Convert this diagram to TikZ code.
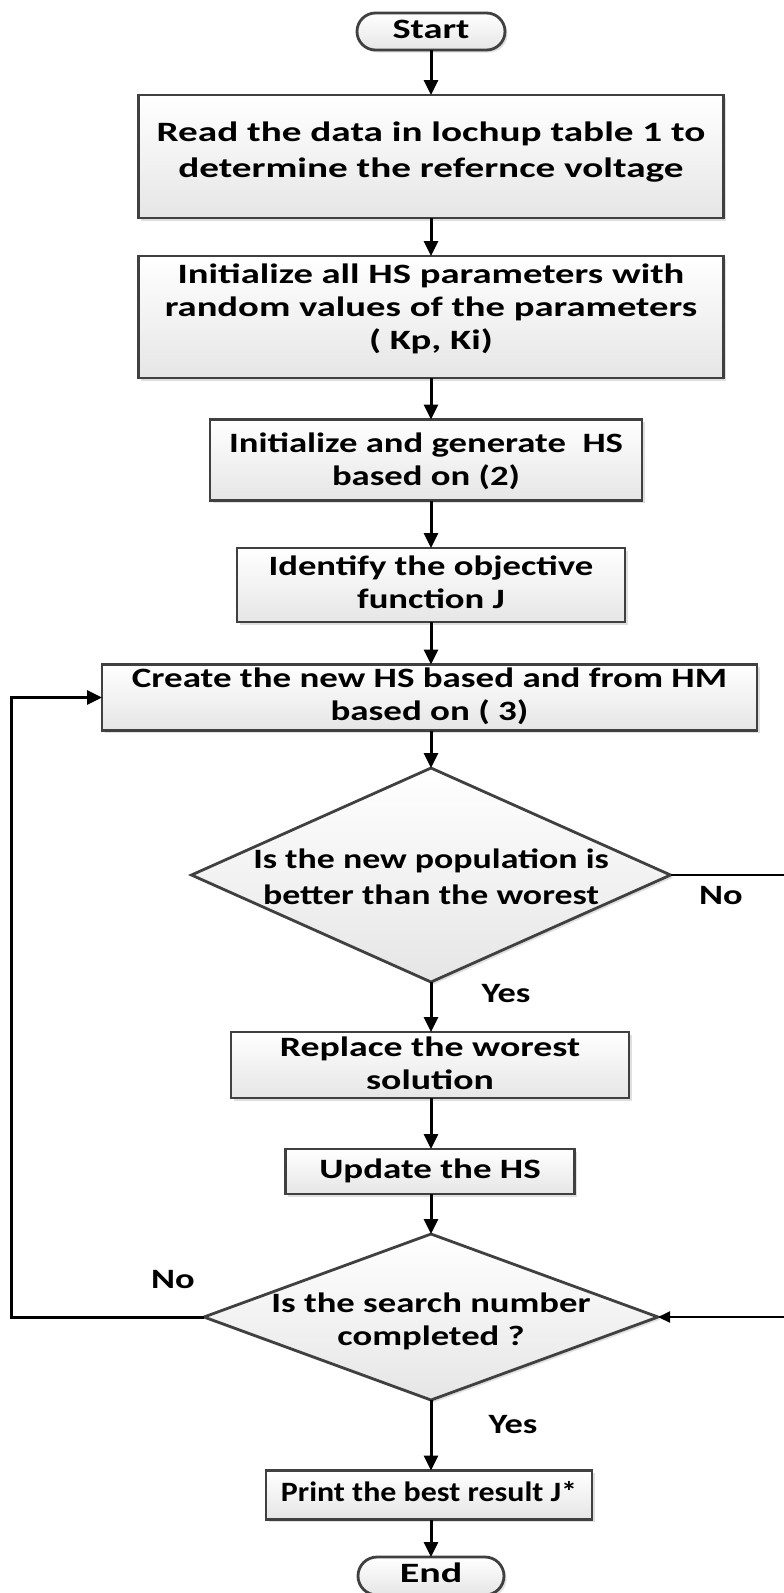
\documentclass[tikz,border=0pt]{standalone}
\usepackage{graphicx}
\usepackage{fontspec}
\setmainfont{Carlito}
\usetikzlibrary{shapes.geometric,shapes.misc,arrows.meta,shadows}
\newcommand{\ftxt}[3][1.25]{\raisebox{#2}[\height][\depth]{\scalebox{#1}[1]{\begin{tabular}{@{}c@{}}#3\end{tabular}}}}
\begin{document}
\begin{tikzpicture}[x=1pt,y=-1pt,
  txt/.style={font=\fontsize{28}{33}\selectfont\bfseries, inner sep=0pt, outer sep=0pt, text=black},
  wide/.style={font=\fontsize{28}{36}\selectfont\bfseries},
  shade/.style={top color=white, bottom color=black!10, draw=black!75, line width=2.8pt,
    drop shadow={shadow xshift=2.5pt, shadow yshift=-2.5pt, opacity=0.25}},
  procbox/.style={txt, shade, rectangle},
  term/.style={txt, shade, rounded rectangle},
  dia/.style={shade, diamond, inner sep=0pt, outer sep=0pt},
  arr/.style={-{Triangle[length=15pt,width=14pt]}, line width=3pt, black},
  thinarr/.style={-{Triangle[length=12pt,width=11pt]}, line width=2pt, black}
]
\useasboundingbox (0,0) rectangle (784,1593);
\fill[white] (0,0) rectangle (784,1593);

\node[term, minimum width=148, minimum height=37] (start) at (431,31.5) {\ftxt[1.37]{0pt}{Start}};
\node[procbox, wide, minimum width=585, minimum height=123] (read) at (431,156.5)
  {\ftxt[1.40]{4pt}{Read the data in lochup table 1 to\\determine the refernce voltage}};
\node[procbox, minimum width=585, minimum height=122] (init) at (431,317)
  {\ftxt[1.38]{7pt}{Initialize all HS parameters with\\random values of the parameters\\( Kp, Ki)}};
\node[procbox, minimum width=432, minimum height=81] (gen) at (426,460)
  {\ftxt[1.31]{-2pt}{Initialize and generate~ HS\\based on (2)}};
\node[procbox, minimum width=388, minimum height=74] (ident) at (431,585)
  {\ftxt[1.31]{0pt}{Identify the objective\\function J}};
\node[procbox, minimum width=655, minimum height=61] (create) at (429.5,697.5)
  {\ftxt[1.32]{0pt}{Create the new HS based and from HM\\based on ( 3)}};
\node[dia, minimum width=479, minimum height=214] (d1) at (431,875) {};
\node[txt, wide] (d1t) at (d1.center) {\ftxt[1.28]{-4pt}{Is the new population is\\better than the worest}};
\node[procbox, minimum width=398, minimum height=64] (repl) at (430,1065)
  {\ftxt[1.35]{-1pt}{Replace the worest\\solution}};
\node[procbox, minimum width=289, minimum height=45] (upd) at (430,1171.5)
  {\ftxt[1.32]{0pt}{Update the HS}};
\node[dia, minimum width=454, minimum height=166] (d2) at (431,1317) {};
\node[txt] (d2t) at (d2.center) {\ftxt[1.31]{-5pt}{Is the search number\\completed ?}};
\node[procbox, minimum width=326, minimum height=49] (print) at (429,1495)
  {\ftxt[1.14]{0pt}{Print the best result J*}};
\node[term, minimum width=146, minimum height=38] (end) at (431,1576) {\ftxt[1.43]{0pt}{End}};

\node[txt] (no1) at (721,898) {\ftxt[1.3]{0pt}{No}};
\node[txt] (yes1) at (506,996) {\ftxt[1.3]{0pt}{Yes}};
\node[txt] (no2) at (173,1282) {\ftxt[1.3]{0pt}{No}};
\node[txt] (yes2) at (513,1427) {\ftxt[1.3]{0pt}{Yes}};

\draw[arr] (start.south) -- (start.south |- read.north);
\draw[arr] (read.south) -- (read.south |- init.north);
\draw[arr] (init.south) -- (init.south |- gen.north);
\draw[arr] (init.south |- gen.south) -- (init.south |- ident.north);
\draw[arr] (ident.south) -- (ident.south |- create.north);
\draw[arr] (ident.south |- create.south) -- (d1.north);
\draw[arr] (d1.south) -- (d1.south |- repl.north);
\draw[arr] (d1.south |- repl.south) -- (d1.south |- upd.north);
\draw[arr] (d1.south |- upd.south) -- (d2.north);
\draw[arr] (d2.south) -- (d2.south |- print.north);
\draw[arr] (d2.south |- print.south) -- (end.north);
\draw[arr] (d2.west) -- ++(-193,0) |- (create.west);
\draw[thinarr] (d1.east) -- ++(150,0) |- (d2.east);
\end{tikzpicture}
\end{document}
